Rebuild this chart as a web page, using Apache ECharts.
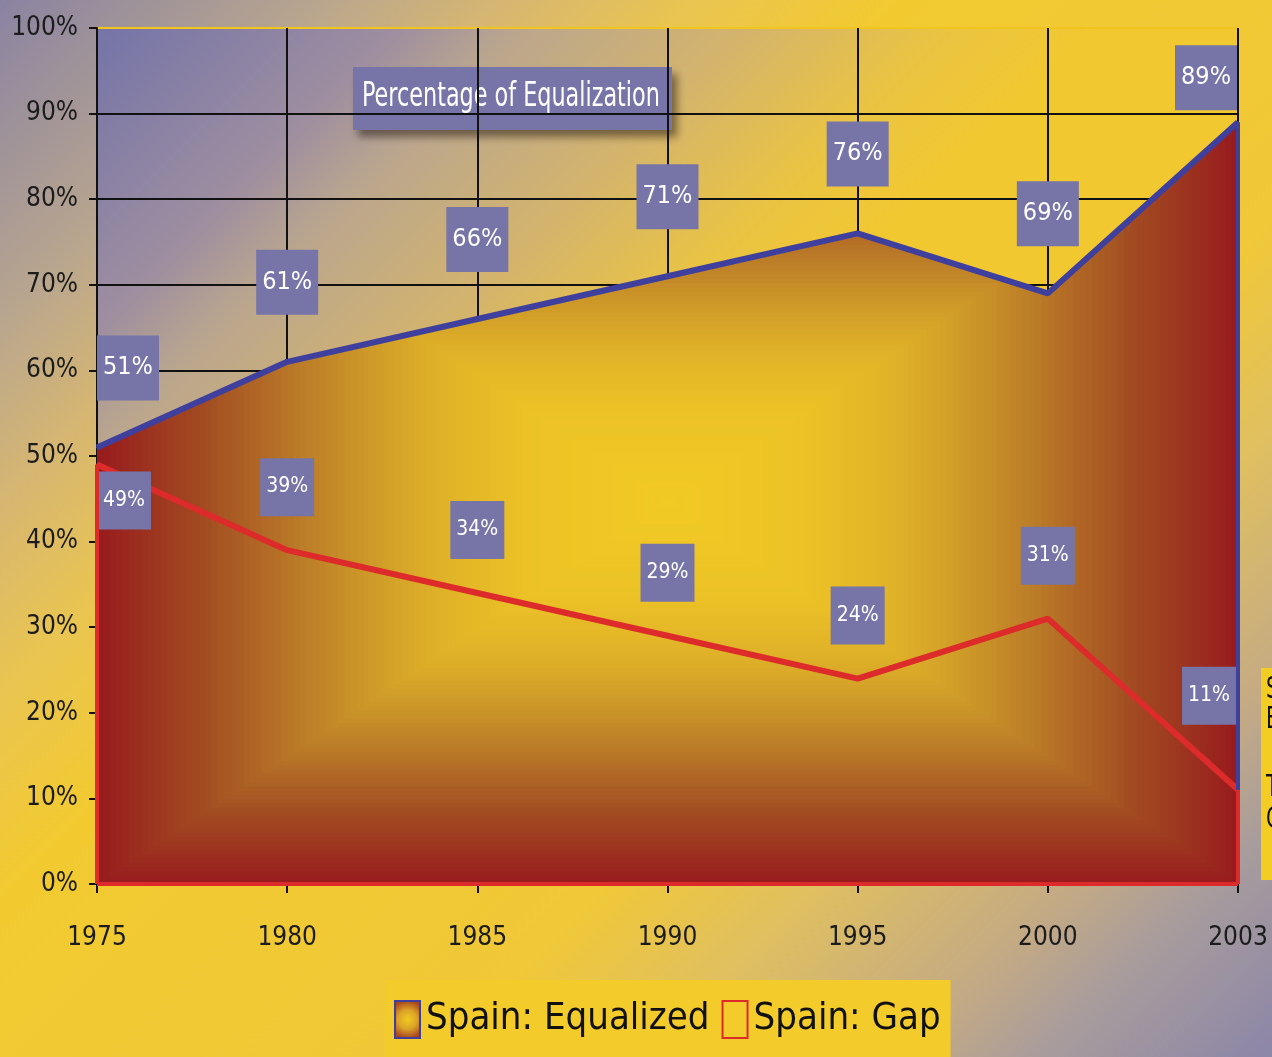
<!DOCTYPE html>
<html>
<head>
<meta charset="utf-8">
<script src="https://cdn.jsdelivr.net/npm/echarts@6/dist/echarts.min.js"></script>
<style>
  html, body { margin: 0; padding: 0; width: 1272px; height: 1057px; overflow: hidden; }
  #chart {
    width: 1272px; height: 1057px;
    background: linear-gradient(135deg,
      #8a83a2 0%, #b9a68e 14%, #d6b672 21.5%, #eac550 30%, #f2ca30 38.6%,
      #f0c838 64%, #e0c060 73%, #c4aa84 84%, #a89c9c 90%, #8c86a8 100%);
  }
</style>
</head>
<body>
<div id="chart"></div>
<script>
// Spain: share of the gap that has been closed, by year
const years = ['1975', '1980', '1985', '1990', '1995', '2000', '2003'];
const equalized = [51, 61, 66, 71, 76, 69, 89];
const gap = [49, 39, 34, 29, 24, 31, 11];
const seriesNames = ['Spain: Equalized', 'Spain: Gap'];

const FONT = "'DejaVu Sans Condensed','Liberation Sans Narrow','Noto Sans',sans-serif";
const BOX = '#7774a7';
const BLUE = '#3f3f9e';
const RED = '#dd2a2a';

// colour ramp of the rectangular gradient, keyed by the normalised
// distance from the centre of the area (0 = centre, 1 = edge)
const RAMP = [
  [0.00, [242, 202, 36]],
  [0.25, [236, 194, 38]],
  [0.40, [224, 178, 40]],
  [0.50, [210, 160, 40]],
  [0.64, [188, 126, 40]],
  [0.82, [162, 76, 34]],
  [1.00, [152, 28, 30]]
];

const chart = echarts.init(document.getElementById('chart'), null, { renderer: 'canvas' });
const last = years.length - 1;

function valueLabel(size, padding, distance) {
  return {
    show: true, position: 'top', distance: distance,
    formatter: '{c}%', color: '#ffffff', fontFamily: FONT, fontSize: size,
    backgroundColor: BOX, padding: padding
  };
}

const eqData = equalized.map((v, i) => {
  if (i === 0) return { value: v, label: { align: 'left', offset: [0, 0] } };
  if (i === last) return { value: v, label: { align: 'right', distance: 11, offset: [-1, 0] } };
  return v;
});
const gapData = gap.map((v, i) => {
  if (i === 0) return { value: v, label: { position: 'bottom', distance: 6, align: 'left', offset: [0, 0] } };
  if (i === last) return { value: v, label: { align: 'right', distance: 64, offset: [-2, 0] } };
  return v;
});

// horizontal split lines: black, except the top (100%) one, which is yellow
const hLineColors = Array(10).fill('#111111').concat(['#f2c51e']);

const option = {
  animation: false,
  grid: {
    left: 97, right: 34, top: 28, bottom: 173, show: true, borderWidth: 0,
    // plot-area shading, running diagonally from the top-left corner
    backgroundColor: new echarts.graphic.LinearGradient(97, 28, 597, 528, [
      { offset: 0.00, color: '#7474a8' },
      { offset: 0.30, color: '#9e8ea0' },
      { offset: 0.42, color: '#baa68e' },
      { offset: 0.65, color: '#d4b46c' },
      { offset: 0.85, color: '#eac442' },
      { offset: 1.00, color: '#f2c830' }
    ], true)
  },
  xAxis: {
    type: 'category', data: years, boundaryGap: false,
    axisLine: { lineStyle: { color: '#111', width: 2 } },
    axisTick: { show: true, length: 9, lineStyle: { color: '#111', width: 2 } },
    axisLabel: { color: '#1c1c1c', fontFamily: FONT, fontSize: 26, margin: 41 },
    splitLine: { show: true, lineStyle: { color: '#111', width: 2 } }
  },
  yAxis: {
    type: 'value', min: 0, max: 100, interval: 10,
    axisLine: { show: true, lineStyle: { color: '#111', width: 2 } },
    axisTick: { show: true, length: 8, lineStyle: { color: '#111', width: 2 } },
    axisLabel: { formatter: '{value}%', color: '#1c1c1c', fontFamily: FONT, fontSize: 26, margin: 19 },
    splitLine: { show: true, lineStyle: { color: hLineColors, width: 2 } }
  },
  legend: {
    left: 385, top: 980,
    backgroundColor: '#f3cc2c',
    padding: [20, 10, 30, 9],
    itemGap: 12, itemWidth: 25, itemHeight: 37,
    icon: 'rect',
    textStyle: { fontFamily: FONT, fontSize: 38, color: '#111', padding: [0, 0, 0, 1] },
    data: [
      {
        name: seriesNames[0],
        itemStyle: {
          color: { type: 'radial', x: 0.5, y: 0.5, r: 0.7,
            colorStops: [{ offset: 0, color: '#f2c91f' }, { offset: 0.5, color: '#dca428' }, { offset: 1, color: '#a8441e' }] },
          borderColor: BLUE, borderWidth: 2
        }
      },
      {
        name: seriesNames[1],
        itemStyle: { color: 'rgba(0,0,0,0)', borderColor: RED, borderWidth: 2 }
      }
    ]
  },
  series: [
    {
      id: 'eq', name: seriesNames[0], type: 'line', data: eqData,
      symbol: 'circle', symbolSize: 2,
      itemStyle: { color: BLUE },
      lineStyle: { color: BLUE, width: 6 },
      areaStyle: { color: '#c07020', opacity: 1 },
      label: valueLabel(25, [20, 6, 20, 6], 46),
      markLine: {
        silent: true, symbol: 'none', label: { show: false },
        lineStyle: { color: BLUE, width: 4, type: 'solid' },
        data: [[{ coord: [years[last], equalized[last]] }, { coord: [years[last], 0] }]]
      },
      z: 2
    },
    {
      id: 'gap', name: seriesNames[1], type: 'line', data: gapData,
      symbol: 'circle', symbolSize: 2,
      itemStyle: { color: RED },
      lineStyle: { color: RED, width: 6 },
      label: valueLabel(21, [18, 6, 19, 6], 33),
      markLine: {
        silent: true, symbol: 'none', label: { show: false },
        lineStyle: { color: RED, width: 4, type: 'solid' },
        data: [
          [{ coord: [years[0], gap[0]] }, { coord: [years[0], 0] }],
          [{ coord: [years[0], 0] }, { coord: [years[last], 0] }],
          [{ coord: [years[last], gap[last]] }, { coord: [years[last], 0] }]
        ]
      },
      z: 3
    }
  ],
  graphic: [
    {
      type: 'group', left: 353, top: 67, z: 100,
      children: [
        { type: 'rect', shape: { width: 319, height: 63 },
          style: { fill: BOX, shadowBlur: 8, shadowOffsetX: 5, shadowOffsetY: 7, shadowColor: 'rgba(40,30,20,0.55)' } },
        { type: 'text', x: 9, y: 30, scaleX: 0.73,
          style: { text: 'Percentage of Equalization', fill: '#fff', font: '34px ' + FONT, verticalAlign: 'middle' } }
      ]
    },
    {
      type: 'group', left: 583, top: 684, z: 100,
      children: [
        { type: 'rect', shape: { width: 185, height: 61 }, style: { fill: BOX } },
        { type: 'text', x: 11, y: 31, scaleX: 0.73,
          style: { text: 'Size of Gap', fill: '#fff', font: '34px ' + FONT, verticalAlign: 'middle' } }
      ]
    },
    {
      type: 'group', left: 1261, top: 668, z: 100,
      children: [
        { type: 'rect', shape: { width: 30, height: 212 }, style: { fill: '#f4cd24' } },
        { type: 'text', x: 5, y: 22, scaleX: 0.75, style: { text: 'S', fill: '#111', font: '30px ' + FONT, verticalAlign: 'middle' } },
        { type: 'text', x: 5, y: 52, scaleX: 0.75, style: { text: 'E', fill: '#111', font: '30px ' + FONT, verticalAlign: 'middle' } },
        { type: 'text', x: 5, y: 120, scaleX: 0.75, style: { text: 'T', fill: '#111', font: '30px ' + FONT, verticalAlign: 'middle' } },
        { type: 'text', x: 5, y: 152, scaleX: 0.75, style: { text: 'C', fill: '#111', font: '30px ' + FONT, verticalAlign: 'middle' } }
      ]
    }
  ]
};

chart.setOption(option);

function rampColor(d) {
  for (let k = 1; k < RAMP.length; k++) {
    if (d <= RAMP[k][0]) {
      const a = RAMP[k - 1], b = RAMP[k];
      const f = (d - a[0]) / (b[0] - a[0]);
      return a[1].map((c, j) => Math.round(c + (b[1][j] - c) * f));
    }
  }
  return RAMP[RAMP.length - 1][1];
}

// Rectangle ("from centre") gradient for the equalized area, drawn as
// nested bands over the bounding box of the area.
function rectangleGradient(x0, y0, x1, y1) {
  const canvas = document.createElement('canvas');
  canvas.width = 1272; canvas.height = 1057;
  const ctx = canvas.getContext('2d');
  const steps = 90;
  const cx = (x0 + x1) / 2, cy = (y0 + y1) / 2;
  const hw = (x1 - x0) / 2, hh = (y1 - y0) / 2;
  for (let i = 0; i < steps; i++) {
    const d = 1 - i / steps;
    ctx.fillStyle = 'rgb(' + rampColor(d).join(',') + ')';
    ctx.fillRect(cx - hw * d, cy - hh * d, 2 * hw * d, 2 * hh * d);
  }
  return canvas;
}

const pBottomLeft = chart.convertToPixel({ gridIndex: 0 }, [years[0], 0]);
const pTopRight = chart.convertToPixel({ gridIndex: 0 }, [years[last], Math.max.apply(null, equalized)]);
const img = rectangleGradient(pBottomLeft[0], pTopRight[1], pTopRight[0], pBottomLeft[1]);

chart.setOption({
  series: [{ id: 'eq', areaStyle: { color: { image: img, repeat: 'no-repeat' }, opacity: 1 } }]
});
</script>
</body>
</html>
